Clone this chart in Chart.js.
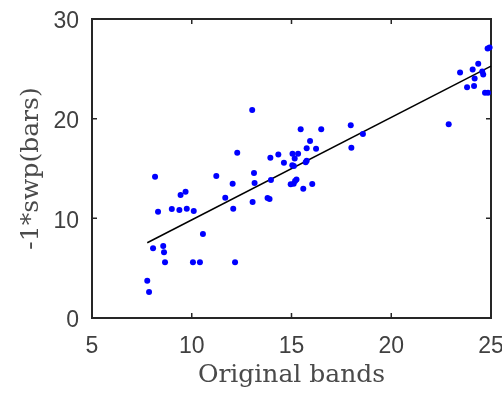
<!DOCTYPE html>
<html>
<head>
<meta charset="utf-8">
<script src="https://cdn.jsdelivr.net/npm/chart.js@4/dist/chart.umd.min.js"></script>
<style>
  html, body { margin: 0; padding: 0; background: #fff; }
  #wrap { width: 502px; height: 394px; }
</style>
</head>
<body>
<div id="wrap"><canvas id="chart" width="502" height="394"></canvas></div>
<script>
// values
const bandsX = [
  8.16, 8.31, 9.00, 9.38, 9.44, 9.69, 9.75, 10.10, 10.56, 8.06,
  8.57, 8.61, 8.66, 10.06, 10.41, 12.17, 7.77, 7.86, 11.23, 12.05,
  11.68, 12.08, 13.12, 13.15, 13.05, 13.80, 13.90, 13.97, 14.62, 14.96,
  13.03, 12.28, 13.94, 14.34, 15.46, 16.49, 17.97, 18.00, 18.58, 22.88,
  15.93, 15.76, 16.23, 15.05, 15.33, 15.16, 15.04, 15.12, 15.71, 15.76,
  15.11, 15.18, 15.25, 15.59, 16.04,
  23.45, 24.08, 24.36, 24.18, 24.56, 24.61, 23.80, 24.15, 24.70, 24.85,
  24.83, 24.93
];
const swpY = [
  14.17, 10.66, 10.93, 10.83, 12.34, 12.67, 10.96, 10.73, 8.42, 6.99,
  7.22, 6.59, 5.59, 5.59, 5.59, 5.59, 3.74, 2.61, 14.24, 13.47,
  12.07, 10.96, 14.54, 13.54, 11.63, 12.05, 11.95, 13.84, 15.58, 13.41,
  20.86, 16.58, 16.08, 16.41, 18.93, 18.93, 19.33, 17.08, 18.46, 19.43,
  17.75, 17.02, 16.98, 16.48, 16.48, 16.00, 15.33, 15.25, 15.62, 15.78,
  13.47, 13.74, 13.90, 12.97, 13.44,
  24.64, 24.94, 25.51, 24.04, 24.74, 24.44, 23.14, 23.27, 22.60, 22.60,
  27.03, 27.13
];
// fitted line end points
const fitX = [7.77, 25];
const fitY = [7.55, 25.28];

const xTicks = [5, 10, 15, 20, 25];
const yTicks = [0, 10, 20, 30];

const points = bandsX.map((x, i) => ({ x: x, y: swpY[i] }));
const fitLine = fitX.map((x, i) => ({ x: x, y: fitY[i] }));

const tickFont = { family: "'Liberation Sans', Arial, sans-serif", size: 23 };
const titleFont = { family: "'DejaVu Serif', serif", size: 25 };
const textColor = "#404040";
const titleColor = "#4a4a4a";
const axisColor = "#262626";

// MATLAB-like box with inward ticks
const boxPlugin = {
  id: "boxAxes",
  beforeDatasetsDraw(chart) {
    const { ctx, chartArea: a, scales } = chart;
    ctx.save();
    ctx.strokeStyle = axisColor;
    ctx.lineWidth = 2;
    ctx.strokeRect(a.left, a.top, a.right - a.left, a.bottom - a.top);
    ctx.lineWidth = 1.5;
    ctx.beginPath();
    xTicks.slice(1, -1).forEach(v => {
      const px = scales.x.getPixelForValue(v);
      ctx.moveTo(px, a.bottom); ctx.lineTo(px, a.bottom - 5);
      ctx.moveTo(px, a.top); ctx.lineTo(px, a.top + 5);
    });
    yTicks.slice(1, -1).forEach(v => {
      const py = scales.y.getPixelForValue(v);
      ctx.moveTo(a.left, py); ctx.lineTo(a.left + 5, py);
      ctx.moveTo(a.right, py); ctx.lineTo(a.right - 5, py);
    });
    ctx.stroke();
    ctx.restore();
  }
};

new Chart(document.getElementById("chart"), {
  type: "scatter",
  data: {
    datasets: [
      {
        label: "bands",
        data: points,
        backgroundColor: "#0000ff",
        borderColor: "#0000ff",
        pointRadius: 3,
        pointBorderWidth: 0,
        clip: false
      },
      {
        label: "fit",
        data: fitLine,
        showLine: true,
        borderColor: "#000000",
        borderWidth: 1.5,
        pointRadius: 0,
        clip: false
      }
    ]
  },
  plugins: [boxPlugin],
  options: {
    responsive: false,
    animation: false,
    events: [],
    layout: { padding: 0 },
    plugins: { legend: { display: false }, tooltip: { enabled: false } },
    scales: {
      x: {
        type: "linear",
        min: 5, max: 25,
        afterBuildTicks: (s) => { s.ticks = xTicks.map(v => ({ value: v })); },
        afterFit: (s) => { s.height = 76; s.paddingRight = 11; s.paddingLeft = 0; },
        grid: { display: false },
        border: { display: false },
        ticks: { font: tickFont, color: textColor, padding: 7, maxRotation: 0 },
        title: { display: true, text: "Original bands", font: titleFont, color: titleColor, padding: { top: 0, bottom: 4 } }
      },
      y: {
        type: "linear",
        min: 0, max: 30,
        afterBuildTicks: (s) => { s.ticks = yTicks.map(v => ({ value: v })); },
        afterFit: (s) => { s.width = 92; s.paddingTop = 19; s.paddingBottom = 0; },
        grid: { display: false },
        border: { display: false },
        ticks: { font: tickFont, color: textColor, padding: 5, labelOffset: 3 },
        title: { display: true, text: "-1*swp(bars)", font: titleFont, color: titleColor, padding: { top: 16, bottom: 0 } }
      }
    }
  }
});
</script>
</body>
</html>
